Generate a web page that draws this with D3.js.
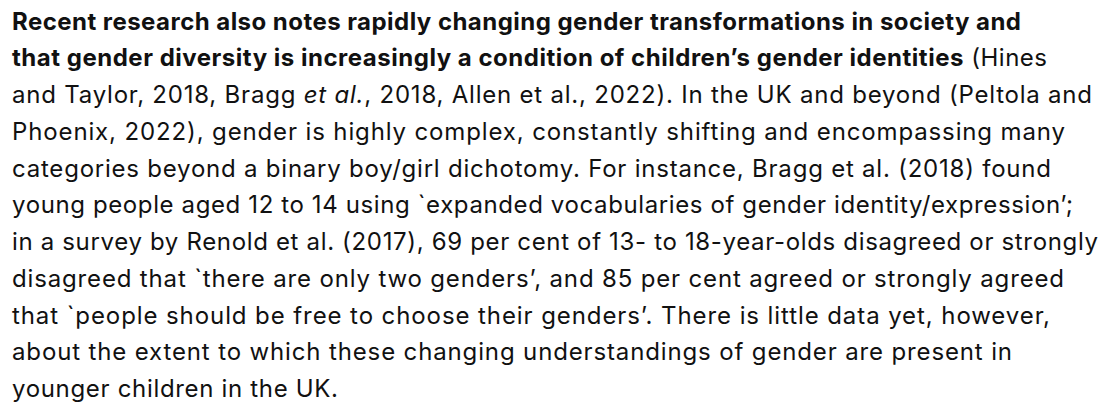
<!DOCTYPE html>
<html>
<head>
<meta charset="utf-8">
<script src="https://cdn.jsdelivr.net/npm/d3@7"></script>
<style>
  html, body { margin: 0; padding: 0; background: #fff; }
  svg { display: block; }
</style>
</head>
<body>
<svg id="page"></svg>
<script>
const width = 1104, height = 410;
const margin = {left: 12, top: 29.5};
const lineHeight = 36.75;
const fontSize = 24;

// each line is a list of [text, style] runs: b = bold, r = regular, i = italic
const lineRuns = [
  [["Recent research also notes rapidly changing gender transformations in society and", "b"]],
  [["that gender diversity is increasingly a condition of children’s gender identities", "b"], [" (Hines", "r"]],
  [["and Taylor, 2018, Bragg ", "r"], ["et al.", "i"], [", 2018, Allen et al., 2022). In the UK and beyond (Peltola and", "r"]],
  [["Phoenix, 2022), gender is highly complex, constantly shifting and encompassing many", "r"]],
  [["categories beyond a binary boy/girl dichotomy. For instance, Bragg et al. (2018) found", "r"]],
  [["young people aged 12 to 14 using `expanded vocabularies of gender identity/expression’;", "r"]],
  [["in a survey by Renold et al. (2017), 69 per cent of 13- to 18-year-olds disagreed or strongly", "r"]],
  [["disagreed that `there are only two genders’, and 85 per cent agreed or strongly agreed", "r"]],
  [["that `people should be free to choose their genders’. There is little data yet, however,", "r"]],
  [["about the extent to which these changing understandings of gender are present in", "r"]],
  [["younger children in the UK.", "r"]]
];
// right edge of every line in the reference (px)
const lineEnds = [1021, 1047, 1092, 1065, 1051, 1073, 1098, 1064, 1050, 1012, 338];

const svg = d3.select("#page").attr("width", width).attr("height", height);

const y = d3.scaleLinear()
  .domain([0, lineRuns.length - 1])
  .range([margin.top, margin.top + lineHeight * (lineRuns.length - 1)]);

const styleOf = {
  b: {weight: 700, style: "normal"},
  r: {weight: 400, style: "normal"},
  i: {weight: 400, style: "italic"}
};

const lines = svg.selectAll("text.line")
  .data(lineRuns)
  .enter()
  .append("text")
  .attr("class", "line")
  .attr("x", margin.left)
  .attr("y", (d, i) => y(i))
  .attr("fill", "#111")
  .attr("font-family", "Inter, 'Noto Sans', sans-serif")
  .attr("font-size", fontSize);

lines.selectAll("tspan")
  .data(d => d)
  .enter()
  .append("tspan")
  .attr("font-weight", d => styleOf[d[1]].weight)
  .attr("font-style", d => styleOf[d[1]].style)
  .style("white-space", "pre")
  .text(d => d[0]);

// spread the letters so each line ends where it does in the reference
lines.each(function(d, i) {
  const n = d.map(r => r[0]).join("").length;
  const w = this.getComputedTextLength();
  const spacing = (lineEnds[i] - margin.left - w) / (n - 1);
  d3.select(this).attr("letter-spacing", spacing);
});
</script>
</body>
</html>
